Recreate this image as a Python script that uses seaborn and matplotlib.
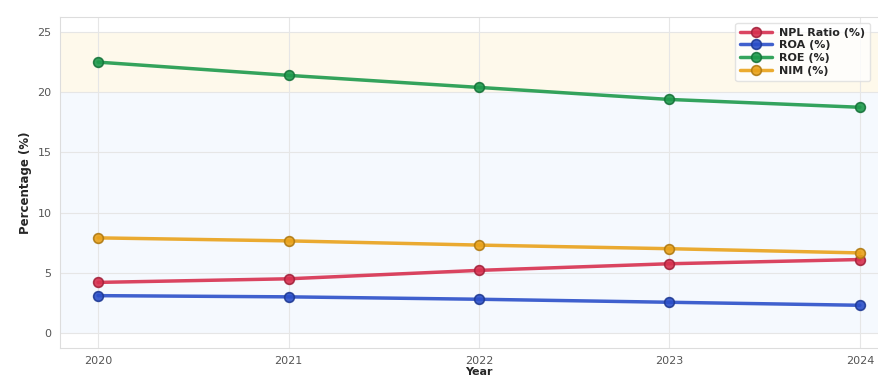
import numpy as np
import pandas as pd
import matplotlib
matplotlib.use('Agg')
import matplotlib.pyplot as plt
import seaborn as sns

# podaci procitani sa slike
years = [2020, 2021, 2022, 2023, 2024]
npl_ratio = [4.2, 4.5, 5.2, 5.75, 6.1]
roa = [3.1, 3.0, 2.8, 2.55, 2.3]
roe = [22.5, 21.4, 20.4, 19.4, 18.75]
nim = [7.9, 7.65, 7.3, 7.0, 6.65]

labels = ['NPL Ratio (%)', 'ROA (%)', 'ROE (%)', 'NIM (%)']
colors = ['#d7304f', '#2b4fc9', '#1e9a4c', '#e9a21a']
edges = ['#a3223b', '#1f3a94', '#16733a', '#b07a12']

df = pd.DataFrame({'Year': years, labels[0]: npl_ratio, labels[1]: roa,
                   labels[2]: roe, labels[3]: nim})

sns.set_style('whitegrid')
plt.rcParams['font.family'] = ['DejaVu Sans']

fig = plt.figure(figsize=(8.79, 3.78), dpi=100)
ax = fig.add_axes([60/879, (378-348)/378, 838/879, 331/378])

# pozadinske zone
ax.axhspan(0, 20, color='#dbeafe', alpha=0.25, zorder=0, lw=0)
ax.axhspan(20, 25, color='#fdf0c8', alpha=0.35, zorder=0, lw=0)

for lab, c, e in zip(labels, colors, edges):
    sns.lineplot(data=df, x='Year', y=lab, ax=ax, color=c, label=lab,
                 marker='o', markersize=7, linewidth=2.5,
                 markeredgecolor=e, markeredgewidth=1.2, alpha=0.9)

ax.set_xticks(years)
ax.set_xlabel('Year', fontsize=8, fontweight='bold', labelpad=0.5)
ax.set_ylabel('Percentage (%)', fontsize=8.5, fontweight='bold')
ax.tick_params(labelsize=8, colors='#555555', pad=2.5)
ax.grid(True, color='#e6e6e6', linewidth=0.8)
for s in ax.spines.values():
    s.set_color('#dddddd')

leg = ax.legend(loc='upper right', bbox_to_anchor=(876/879, 1 - 17/378),
                bbox_transform=fig.transFigure, frameon=True,
                prop={'weight': 'bold', 'size': 8},
                borderpad=0.45, labelspacing=0.25, handlelength=2.8,
                handletextpad=0.7)
leg.get_frame().set_alpha(0.8)
leg.get_frame().set_edgecolor('#dddddd')

fig.savefig('out.png', dpi=100)
